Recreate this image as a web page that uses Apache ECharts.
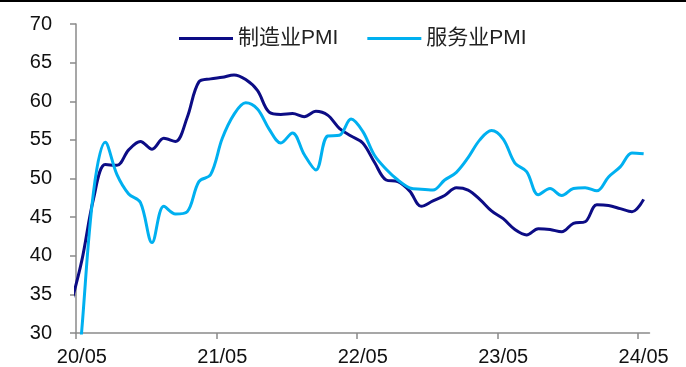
<!DOCTYPE html>
<html>
<head>
<meta charset="utf-8">
<script src="https://cdn.jsdelivr.net/npm/echarts@6/dist/echarts.min.js"></script>
<style>
html,body{margin:0;padding:0;background:#fff;}
#chart{width:686px;height:367px;}
</style>
</head>
<body>
<div id="chart"></div>
<script>
// Months from 2020-04 to 2024-05
var months = [
  '2020-04','2020-05','2020-06','2020-07','2020-08','2020-09','2020-10','2020-11','2020-12',
  '2021-01','2021-02','2021-03','2021-04','2021-05','2021-06','2021-07','2021-08','2021-09','2021-10','2021-11','2021-12',
  '2022-01','2022-02','2022-03','2022-04','2022-05','2022-06','2022-07','2022-08','2022-09','2022-10','2022-11','2022-12',
  '2023-01','2023-02','2023-03','2023-04','2023-05','2023-06','2023-07','2023-08','2023-09','2023-10','2023-11','2023-12',
  '2024-01','2024-02','2024-03','2024-04','2024-05'
];
var manufacturing = [
  33.4, 39.4, 47.4, 51.8, 51.7, 53.7, 54.8, 53.8, 55.2,
  54.8, 57.9, 62.5, 62.9, 63.1, 63.4, 62.8, 61.4, 58.6, 58.3, 58.4, 58.0,
  58.7, 58.2, 56.5, 55.5, 54.6, 52.1, 49.8, 49.6, 48.4, 46.4, 47.1, 47.8,
  48.8, 48.5, 47.3, 45.8, 44.8, 43.4, 42.7, 43.5, 43.4, 43.1, 44.2, 44.4,
  46.6, 46.5, 46.1, 45.7, 47.3
];
var services = [
  12.0, 30.5, 48.3, 54.7, 50.5, 48.0, 46.9, 41.7, 46.4,
  45.4, 45.7, 49.6, 50.5, 55.2, 58.3, 59.8, 59.0, 56.4, 54.6, 55.9, 53.1,
  51.1, 55.5, 55.6, 57.7, 56.1, 53.0, 51.2, 49.8, 48.8, 48.6, 48.5, 49.8,
  50.8, 52.7, 55.0, 56.2, 55.1, 52.0, 50.9, 47.9, 48.7, 47.8, 48.7, 48.8,
  48.4, 50.2, 51.5, 53.3, 53.2
];
var tickMonths = ['2020-05','2021-05','2022-05','2023-05','2024-05'];
var tickLabels = ['20/05','21/05','22/05','23/05','24/05'];
var seriesNames = ['制造业PMI','服务业PMI'];
var yTicks = [30,35,40,45,50,55,60,65,70];

var labelPos = tickMonths.map(function(m){ return months.indexOf(m); });
var tickPos = labelPos.map(function(p){ return p - 0.5; });
function pairs(arr){ return arr.map(function(v,i){ return [i, v]; }); }

var FONT = "'Liberation Sans', Arial, 'Noto Sans CJK SC', sans-serif";
var chart = echarts.init(document.getElementById('chart'), null, {renderer:'canvas'});
chart.setOption({
  animation: false,
  backgroundColor: '#fff',
  graphic: [{type:'rect', shape:{x:0,y:0,width:686,height:2}, style:{fill:'#000'}}],
  legend: {
    left: 174, top: 23,
    itemWidth: 54, itemHeight: 3, itemGap: 29,
    icon: 'rect',
    textStyle: {fontSize: 21, color: '#222', fontFamily: FONT},
    data: seriesNames
  },
  grid: {left: 76, right: 36.5, top: 24, bottom: 33, containLabel: false},
  xAxis: {
    type: 'value',
    min: tickPos[0], max: months.length - 0.5,
    splitLine: {show: false},
    axisLine: {show: true, lineStyle: {color: '#8a8a8a', width: 1.5}},
    axisTick: {show: true, length: 6, inside: false, customValues: tickPos, lineStyle: {color: '#8a8a8a', width: 1.5}},
    axisLabel: {
      customValues: labelPos, margin: 14,
      fontSize: 20, color: '#111', fontFamily: FONT,
      formatter: function(v){ var k = labelPos.indexOf(Math.round(v)); return k >= 0 ? tickLabels[k] : ''; }
    }
  },
  yAxis: {
    type: 'value',
    min: yTicks[0], max: yTicks[yTicks.length-1], interval: 5,
    splitLine: {show: false},
    axisLine: {show: true, lineStyle: {color: '#8a8a8a', width: 1.5}},
    axisTick: {show: true, length: 6, lineStyle: {color: '#8a8a8a', width: 1.5}},
    axisLabel: {margin: 24, fontSize: 20, color: '#111', fontFamily: FONT}
  },
  series: [
    {name: seriesNames[0], type: 'line', data: pairs(manufacturing), smooth: 0.35, symbol: 'none',
     clip: true, lineStyle: {color: '#0c0c85', width: 3}, itemStyle: {color: '#0c0c85'}},
    {name: seriesNames[1], type: 'line', data: pairs(services), smooth: 0.35, symbol: 'none',
     clip: true, lineStyle: {color: '#00b0f0', width: 3}, itemStyle: {color: '#00b0f0'}}
  ]
});
</script>
</body>
</html>
